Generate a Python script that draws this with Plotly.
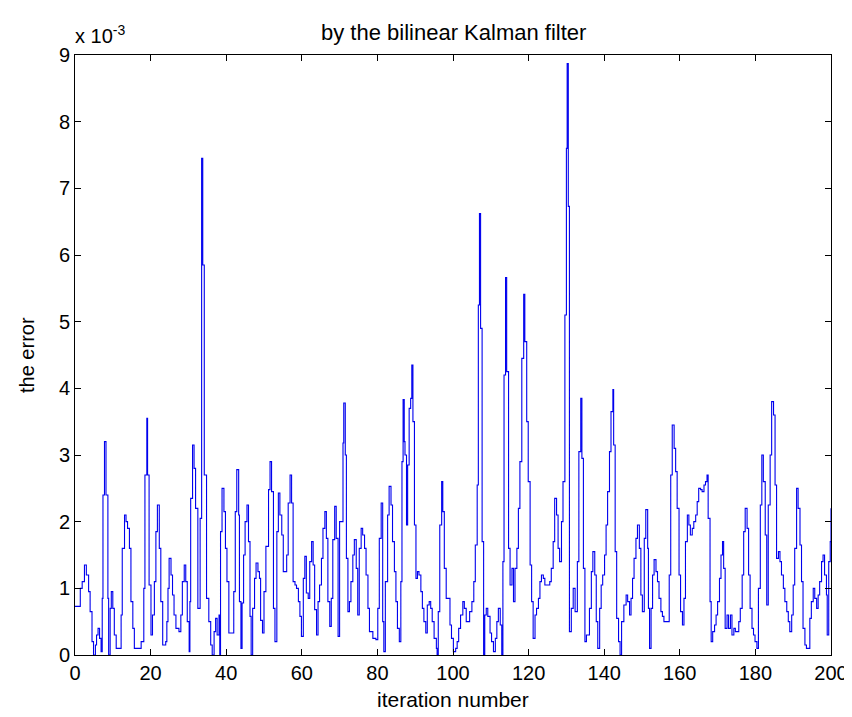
import plotly.graph_objects as go

# iteration positions and error values in units of 1e-3
iters = [0.0,1.4,1.9,2.5,3.0,3.6,4.0,4.5,4.9,5.4,5.7,6.1,6.5,6.9,7.2,7.4,7.8,8.2,8.7,8.9,
         9.3,9.6,10.0,10.4,10.9,12.2,12.5,13.1,13.5,13.9,14.4,14.8,15.3,15.7,17.5,18.2,18.5,19.0,19.2,19.6,
         20.1,20.5,21.0,21.4,21.8,22.3,22.7,23.2,24.0,24.3,24.6,24.9,25.4,25.8,26.2,26.7,27.5,28.0,28.4,28.9,
         29.3,29.7,30.2,30.4,30.6,31.1,31.5,31.9,32.5,33.1,33.5,33.8,34.2,34.8,35.4,35.9,36.3,36.8,37.2,37.6,
         38.1,38.3,38.5,38.9,39.4,39.8,
         40.2,40.7,42.0,42.4,42.8,43.3,43.5,43.9,44.2,44.6,45.0,45.5,45.9,46.3,46.6,47.0,47.5,47.9,48.4,48.8,
         49.1,49.6,50.0,50.5,51.2,51.6,52.0,52.5,52.9,53.4,53.8,54.2,54.7,55.1,56.0,56.4,56.9,57.3,57.7,58.2,
         58.6,59.1,59.5,59.9,60.4,60.8,61.2,61.7,62.1,62.6,63.0,63.4,63.9,64.3,64.7,65.2,65.6,66.1,66.5,66.9,
         67.4,67.8,68.2,68.7,69.1,69.6,70.0,70.9,71.1,71.5,71.8,72.2,72.6,73.0,73.5,73.9,74.4,74.8,75.2,75.7,
         76.1,76.6,77.0,77.5,77.9,78.8,79.6,80.1,80.5,81.0,81.4,81.7,82.1,82.7,83.1,83.6,84.0,84.5,84.9,85.3,
         85.8,86.2,86.5,86.8,87.1,87.3,87.7,88.0,88.4,88.8,89.1,89.4,89.8,90.2,90.6,91.0,91.5,91.9,92.3,92.8,
         93.2,93.7,94.1,94.5,95.0,95.6,95.8,96.1,96.5,97.0,97.3,97.7,98.2,98.7,99.2,99.6,100.1,100.7,101.1,101.5,
         102.0,102.6,103.0,103.5,104.0,104.4,105.0,105.5,105.9,106.4,106.7,107.0,107.3,107.7,108.1,108.4,108.8,109.2,109.8,110.2,
         110.7,111.2,111.6,112.0,112.5,112.9,113.2,113.5,113.9,114.2,114.7,115.1,115.6,116.0,116.4,116.9,117.3,117.7,118.2,118.7,
         119.0,119.5,119.9,120.4,120.8,121.2,121.7,122.1,122.6,123.0,123.4,123.9,124.3,125.6,126.0,126.5,126.9,127.4,127.8,128.2,
         128.7,129.1,129.6,130.0,130.2,130.5,130.8,131.3,131.8,132.3,132.9,133.3,133.8,134.1,134.5,134.9,
         135.3,136.1,136.6,137.0,137.5,137.9,138.3,138.8,139.2,139.6,140.1,140.5,140.9,141.4,141.8,142.3,142.5,142.9,143.3,143.8,
         144.2,144.6,145.2,145.8,146.2,146.7,147.1,147.5,147.9,148.4,148.8,149.3,149.7,150.1,150.6,151.0,151.5,151.7,152.0,152.4,
         152.8,153.2,153.7,154.1,154.5,155.0,155.4,155.8,156.7,157.2,157.6,158.0,158.5,158.9,159.3,159.8,160.2,160.7,161.1,161.5,
         162.0,162.4,162.8,163.3,163.7,164.2,164.6,165.0,165.5,165.9,166.4,166.8,167.2,167.5,168.0,168.3,168.7,169.2,169.6,170.0,
         170.5,170.9,171.3,171.6,172.0,172.5,172.9,173.4,173.8,174.3,174.7,175.6,176.0,176.5,176.9,177.3,177.8,178.2,178.6,179.1,
         179.5,179.9,180.4,180.8,181.3,181.7,182.1,182.6,183.0,183.4,183.9,184.3,184.8,185.2,185.6,186.1,186.5,186.9,187.4,187.8,
         188.3,188.7,189.1,189.6,190.0,190.4,190.9,191.3,191.8,192.2,192.6,193.1,193.5,194.4,194.8,195.3,195.7,196.2,196.6,197.0,
         197.5,197.9,198.3,198.8,199.0,199.4,199.8,200.0]

err = [0.73,1.0,1.1,1.35,1.2,0.95,0.65,0.2,0.0,0.15,0.3,0.4,0.25,0.05,0.85,2.4,3.2,2.4,0.85,0.0,
       0.7,0.95,0.7,0.3,0.1,0.6,1.6,2.1,2.0,1.9,1.6,0.8,0.4,0.1,0.2,1.0,2.7,3.55,2.7,1.05,
       0.3,0.6,1.1,1.85,2.25,1.6,0.8,0.15,0.2,0.5,1.0,1.45,1.2,0.9,0.6,0.4,0.35,0.6,1.1,1.35,
       1.1,0.5,0.05,0.8,2.35,3.15,2.8,2.2,0.7,2.05,7.45,5.85,2.7,0.85,0.5,0.15,0.0,0.35,0.55,0.3,
       0.6,0.0,1.85,2.5,2.15,1.6,
       1.1,0.33,0.95,2.15,2.78,2.1,0.8,0.1,0.78,1.5,2.0,2.25,1.7,0.58,0.0,0.7,1.15,1.38,1.25,1.15,
       0.52,0.33,0.95,1.63,2.48,2.9,2.45,0.7,0.2,1.85,2.43,2.1,1.8,1.25,1.5,2.28,2.7,2.28,1.1,1.05,
       1.0,0.8,0.58,0.28,1.15,1.48,0.93,0.85,1.4,1.7,1.35,0.68,0.3,0.8,1.05,1.45,1.9,2.15,1.75,0.8,
       0.43,0.85,1.73,2.23,1.75,0.28,2.0,3.18,3.78,3.0,1.45,0.65,0.8,1.1,1.5,1.73,1.3,0.6,1.6,1.9,
       1.8,1.6,1.2,0.7,0.35,0.25,0.23,0.7,1.75,2.28,0.5,0.05,1.1,2.1,2.53,2.25,1.7,1.25,0.8,0.4,
       0.2,1.1,2.9,3.83,3.2,3.0,1.95,2.85,3.7,3.85,4.35,3.5,1.95,1.15,1.25,1.2,0.95,0.7,0.5,0.33,
       0.75,0.8,0.7,0.5,0.25,0.1,0.0,0.65,1.95,2.6,2.15,1.3,0.85,0.85,0.45,0.25,0.05,0.1,0.2,0.4,
       0.6,0.8,0.7,0.5,0.5,0.65,0.8,1.1,1.65,2.55,5.25,6.62,4.9,1.7,0.0,0.6,0.7,0.58,0.33,0.2,
       0.05,0.25,0.5,0.7,0.45,0.0,1.4,4.2,5.66,4.25,1.6,1.05,1.3,0.8,1.3,1.6,2.2,2.9,4.45,5.41,
       4.7,3.5,2.6,1.35,0.8,0.25,0.6,0.7,0.85,1.1,1.2,1.15,1.05,1.1,1.3,1.7,2.35,2.1,1.6,1.4,
       2.0,2.6,5.1,7.6,8.87,6.73,0.35,0.7,1.0,0.65,1.4,3.05,3.85,2.95,1.3,0.2,
       0.3,0.7,1.25,1.55,1.2,0.5,0.1,0.7,1.05,1.2,1.5,1.95,2.45,3.05,3.65,3.98,3.15,1.55,0.55,0.2,
       0.0,0.5,0.75,0.9,0.8,0.6,0.85,1.15,1.45,1.75,1.95,1.6,0.9,0.65,1.75,2.18,1.6,0.7,0.1,0.7,
       1.2,1.43,1.25,1.1,0.85,0.65,0.58,0.5,0.5,1.2,2.7,3.45,3.1,2.75,2.2,1.2,0.65,0.45,0.85,1.7,
       2.1,1.95,1.8,1.9,2.0,2.1,2.3,2.5,2.48,2.45,2.55,2.6,2.7,2.05,0.8,0.2,0.35,0.45,0.6,0.8,
       1.15,1.5,1.7,1.3,0.4,0.6,0.4,0.6,0.3,0.4,0.35,0.5,0.7,1.2,1.85,2.2,1.9,1.2,0.7,0.4,
       0.3,0.2,0.1,1.0,2.25,3.0,2.6,1.8,0.75,2.25,3.0,3.8,3.6,2.55,1.45,1.55,1.4,1.2,1.0,0.8,
       0.65,0.5,0.35,0.6,1.05,1.6,2.5,2.2,1.65,1.1,0.4,0.15,0.1,0.55,0.8,1.0,0.85,0.7,0.9,1.1,
       1.4,1.5,1.2,0.9,0.3,1.4,1.7,2.2]

x_ticks = [0, 20, 40, 60, 80, 100, 120, 140, 160, 180, 200]
y_ticks = [0, 1, 2, 3, 4, 5, 6, 7, 8, 9]

FONT = "Liberation Sans, Arial, sans-serif"

fig = go.Figure()
fig.add_trace(go.Scatter(x=iters, y=err, mode="lines", line_shape="hv",
                         line=dict(color="#0000ee", width=1.1), hoverinfo="skip"))

axis_common = dict(showline=True, linecolor="black", linewidth=1, mirror="ticks",
                   ticks="inside", ticklen=6, tickcolor="black", tickwidth=1,
                   showgrid=False, zeroline=False,
                   tickfont=dict(family=FONT, size=20, color="black"))

fig.update_xaxes(range=[0, 200], tickvals=x_ticks, ticktext=[str(v) for v in x_ticks], **axis_common)
fig.update_yaxes(range=[0, 9], tickvals=y_ticks, ticktext=[str(v) for v in y_ticks], **axis_common)

fig.update_layout(
    width=852, height=717,
    margin=dict(l=67, r=24, t=47, b=70),
    paper_bgcolor="white", plot_bgcolor="white",
    showlegend=False,
    annotations=[
        dict(text="by the bilinear Kalman filter", xref="paper", yref="paper", x=0.5, y=1,
             xanchor="center", yanchor="middle", yshift=23, showarrow=False,
             font=dict(family=FONT, size=22, color="black")),
        dict(text="x 10<sup>-3</sup>", xref="paper", yref="paper", x=0, y=1,
             xanchor="left", yanchor="bottom", xshift=-2, yshift=6, showarrow=False,
             font=dict(family=FONT, size=20, color="black")),
        dict(text="iteration number", xref="paper", yref="paper", x=0.5, y=0,
             xanchor="center", yanchor="middle", yshift=-44, showarrow=False,
             font=dict(family=FONT, size=21, color="black")),
        dict(text="the error", xref="paper", yref="paper", x=0, y=0.5, textangle=-90,
             xanchor="center", yanchor="middle", xshift=-48, showarrow=False,
             font=dict(family=FONT, size=20, color="black")),
    ],
)

fig.write_html("out.html")
